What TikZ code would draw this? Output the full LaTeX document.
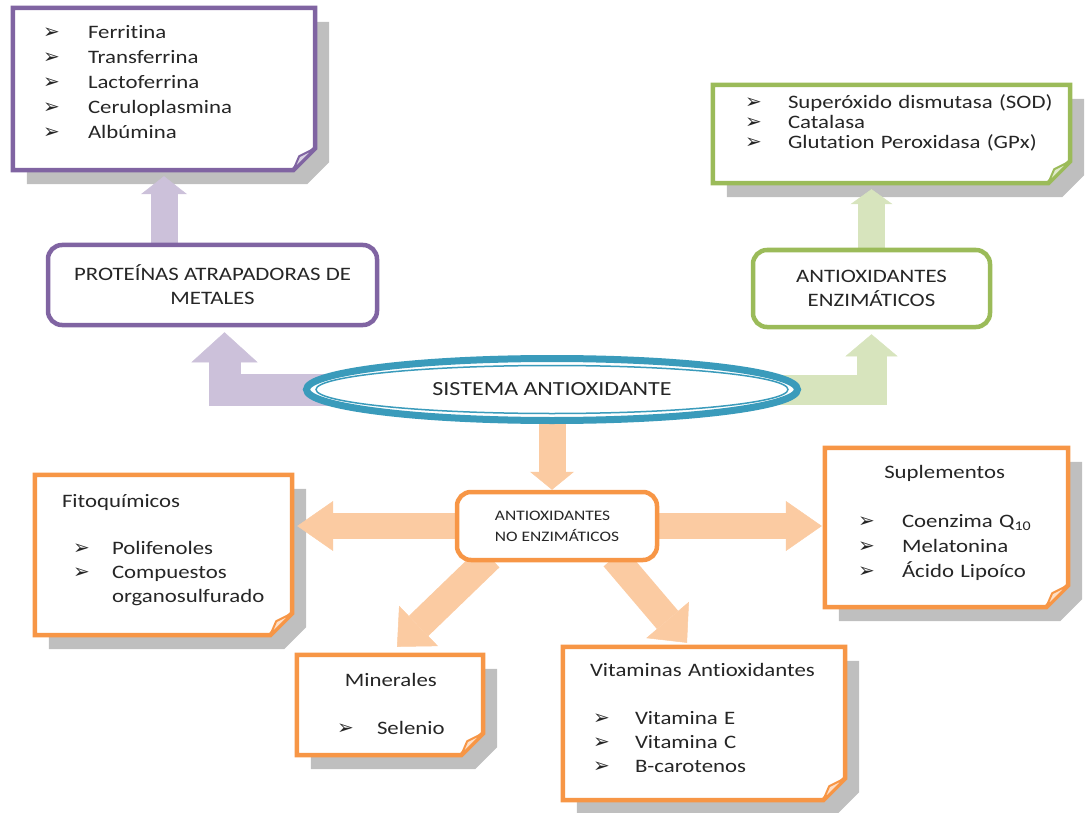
\documentclass[tikz,border=0pt]{standalone}
\usepackage{fontspec}
\setmainfont{Carlito}[FakeStretch=1.2, Ligatures={NoCommon,NoContextual}, RawFeature={-liga;-clig;-calt;-dlig}]
\newfontfamily\dejavu{DejaVu Sans}
\usetikzlibrary{arrows.meta,calc,shapes.geometric,backgrounds}
\definecolor{purp}{HTML}{8064A2}
\definecolor{grn}{HTML}{9BBB59}
\definecolor{orng}{HTML}{F79646}
\definecolor{aqua}{HTML}{3A9BBB}
\newcommand{\bul}{{\dejavu\fontsize{20}{20}\selectfont ➢}}
\begin{document}
\begin{tikzpicture}[
   x=1pt,y=-1pt,
   every node/.style={font=\fontsize{19}{25}\selectfont, text=black!85},
   note/.style={inner ysep=0pt, align=left},
   roundbox/.style={draw, fill=white, rounded corners=14pt, line width=4.5pt, align=center, inner sep=0pt},
   outline/.style={fill=white, line width=4.5pt},
   flap/.style={line width=2pt, line join=round},
   boxshadow/.style={fill=black!25},
   blockarrow/.style n args={3}{line width=#1, -{Triangle[width=#2,length=#3,line width=0.5pt]}},
   purpArr/.style={draw=purp!40!white},
   grnArr/.style={draw=grn!40!white},
   orngArr/.style={draw=orng!50!white}
 ]
  \useasboundingbox (0,0) rectangle (1087,813);

  \node[note, minimum height=162, text width=242, inner xsep=30] (ferr) at (164,89) {%
    \begin{tabular}{@{}p{45pt}@{}l@{}}
      \bul & Ferritina\\ \bul & Transferrina\\ \bul & Lactoferrina\\
      \bul & Ceruloplasmina\\ \bul & Albúmina\\[10pt]
    \end{tabular}};
  \node[note, minimum height=98, text width=293, inner xsep=32, font=\fontsize{19}{20}\selectfont] (enzlist) at (891.5,134) {%
    \begin{tabular}{@{}p{43pt}@{}l@{}}
      \bul & Superóxido dismutasa (SOD)\\ \bul & Catalasa\\
      \bul & Glutation Peroxidasa (GPx)\\[18pt]
    \end{tabular}};

  \node[roundbox, draw=purp, minimum width=329, minimum height=80, font=\fontsize{19}{24}\selectfont] (atrap) at (212.5,285) {PROTEÍNAS ATRAPADORAS DE\\METALES};
  \node[roundbox, draw=grn, minimum width=237, minimum height=77, font=\fontsize{19}{24}\selectfont] (enz) at (871.5,288.5) {ANTIOXIDANTES\\ENZIMÁTICOS};

  \node[ellipse, draw=aqua, line width=7pt, fill=white, minimum width=491, minimum height=62, inner sep=0pt, font=\fontsize{20}{24}\selectfont] (sis) at (552,389.5) {SISTEMA ANTIOXIDANTE};
  \draw[aqua, line width=1.5pt] (sis.center) ellipse [x radius=236, y radius=24];

  \node[roundbox, draw=orng, minimum width=200, minimum height=68, align=left, font=\fontsize{14.5}{21}\selectfont] (noenz) at (557,526) {ANTIOXIDANTES\\NO ENZIMÁTICOS};

  \node[note, minimum height=160, text width=203, inner xsep=27, font=\fontsize{19}{24}\selectfont] (fito) at (163.5,555) {%
    \begin{tabular}{@{\hspace{11pt}}p{39pt}@{}l@{}}
      \multicolumn{2}{@{}l@{}}{Fitoquímicos}\\[23pt]
      \bul & Polifenoles\\ \bul & Compuestos\\ & organosulfurado\\[9pt]
    \end{tabular}};
  \node[note, minimum height=159, text width=177, inner xsep=33] (supl) at (946.5,527.5) {%
    \begin{tabular}{@{}p{44pt}@{}l@{}}
      \multicolumn{2}{c}{Suplementos}\\[24pt]
      \bul & Coenzima Q\textsubscript{10}\\ \bul & Melatonina\\ \bul & Ácido Lipoíco\\[9pt]
    \end{tabular}};
  \node[note, minimum height=100, text width=106, inner xsep=40] (minr) at (390,705) {%
    \begin{tabular}{@{}p{40pt}@{}l@{}}
      \multicolumn{2}{c}{Minerales}\\[23pt]
      \bul & Selenio
    \end{tabular}};
  \node[note, minimum height=153, text width=228, inner xsep=27, font=\fontsize{19}{24}\selectfont] (vit) at (704,723.5) {%
    \begin{tabular}{@{\hspace{3pt}}p{42pt}@{}l@{}}
      \multicolumn{2}{@{}l@{}}{Vitaminas Antioxidantes}\\[24pt]
      \bul & Vitamina E\\ \bul & Vitamina C\\ \bul & B-carotenos\\[7pt]
    \end{tabular}};

  \begin{scope}[on background layer]
    \foreach \b in {ferr,enzlist,fito,supl,minr,vit}
      \fill[boxshadow] ($(\b.north west)+(14,14)$) -- ($(\b.north east)+(14,14)$) -- ($(\b.south east)+(14,-8)$)
        -- ($(\b.south east)+(-8,14)$) -- ($(\b.south west)+(14,14)$) -- cycle;

    % block arrows
    \draw[purpArr, blockarrow={27pt}{46pt}{18pt}] (atrap.north -| ferr.south) -- ($(ferr.south)+(0,6)$);
    \draw[purpArr, blockarrow={32pt}{66pt}{30pt}] ($(sis.west)+(45,0)$) -| ($(atrap.south)+(12,5)$);
    \draw[grnArr, blockarrow={27pt}{42pt}{15pt}] (enz.north) -- ($(enz.north |- enzlist.south)+(0,6)$);
    \draw[grnArr, blockarrow={30pt}{52pt}{22pt}] ($(sis.east)+(-45,0)$) -| ($(enz.south)+(0,5)$);
    \draw[orngArr, blockarrow={27pt}{44pt}{18pt}] (sis.south) -- (sis.south |- noenz.north);
    \draw[orngArr, blockarrow={26pt}{50pt}{36pt}] (noenz.west) -- ($(noenz.west -| fito.east)+(5,0)$);
    \draw[orngArr, blockarrow={26pt}{50pt}{36pt}] (noenz.east) -- ($(noenz.east -| supl.west)+(-3,0)$);
    \draw[orngArr, blockarrow={28pt}{56pt}{30pt}] ($(noenz.south west)+(35,-5)$) -- ($(minr.north)+(7,-8)$);
    \draw[orngArr, blockarrow={28pt}{56pt}{30pt}] ($(noenz.south east)+(-45,-5)$) -- ($(vit.north)+(-17,-4)$);

    \foreach \b/\col in {ferr/purp,enzlist/grn,fito/orng,supl/orng,minr/orng,vit/orng} {
      \filldraw[outline, draw=\col] (\b.north west) -- (\b.north east) -- ($(\b.south east)+(0,-22)$)
        -- ($(\b.south east)+(-22,0)$) -- (\b.south west) -- cycle;
      \filldraw[flap, draw=\col, fill=\col!30] ($(\b.south east)+(0,-22)$) -- ($(\b.south east)+(-22,0)$)
        -- ($(\b.south east)+(-16,-14)$) -- cycle;
    }
  \end{scope}
\end{tikzpicture}
\end{document}
